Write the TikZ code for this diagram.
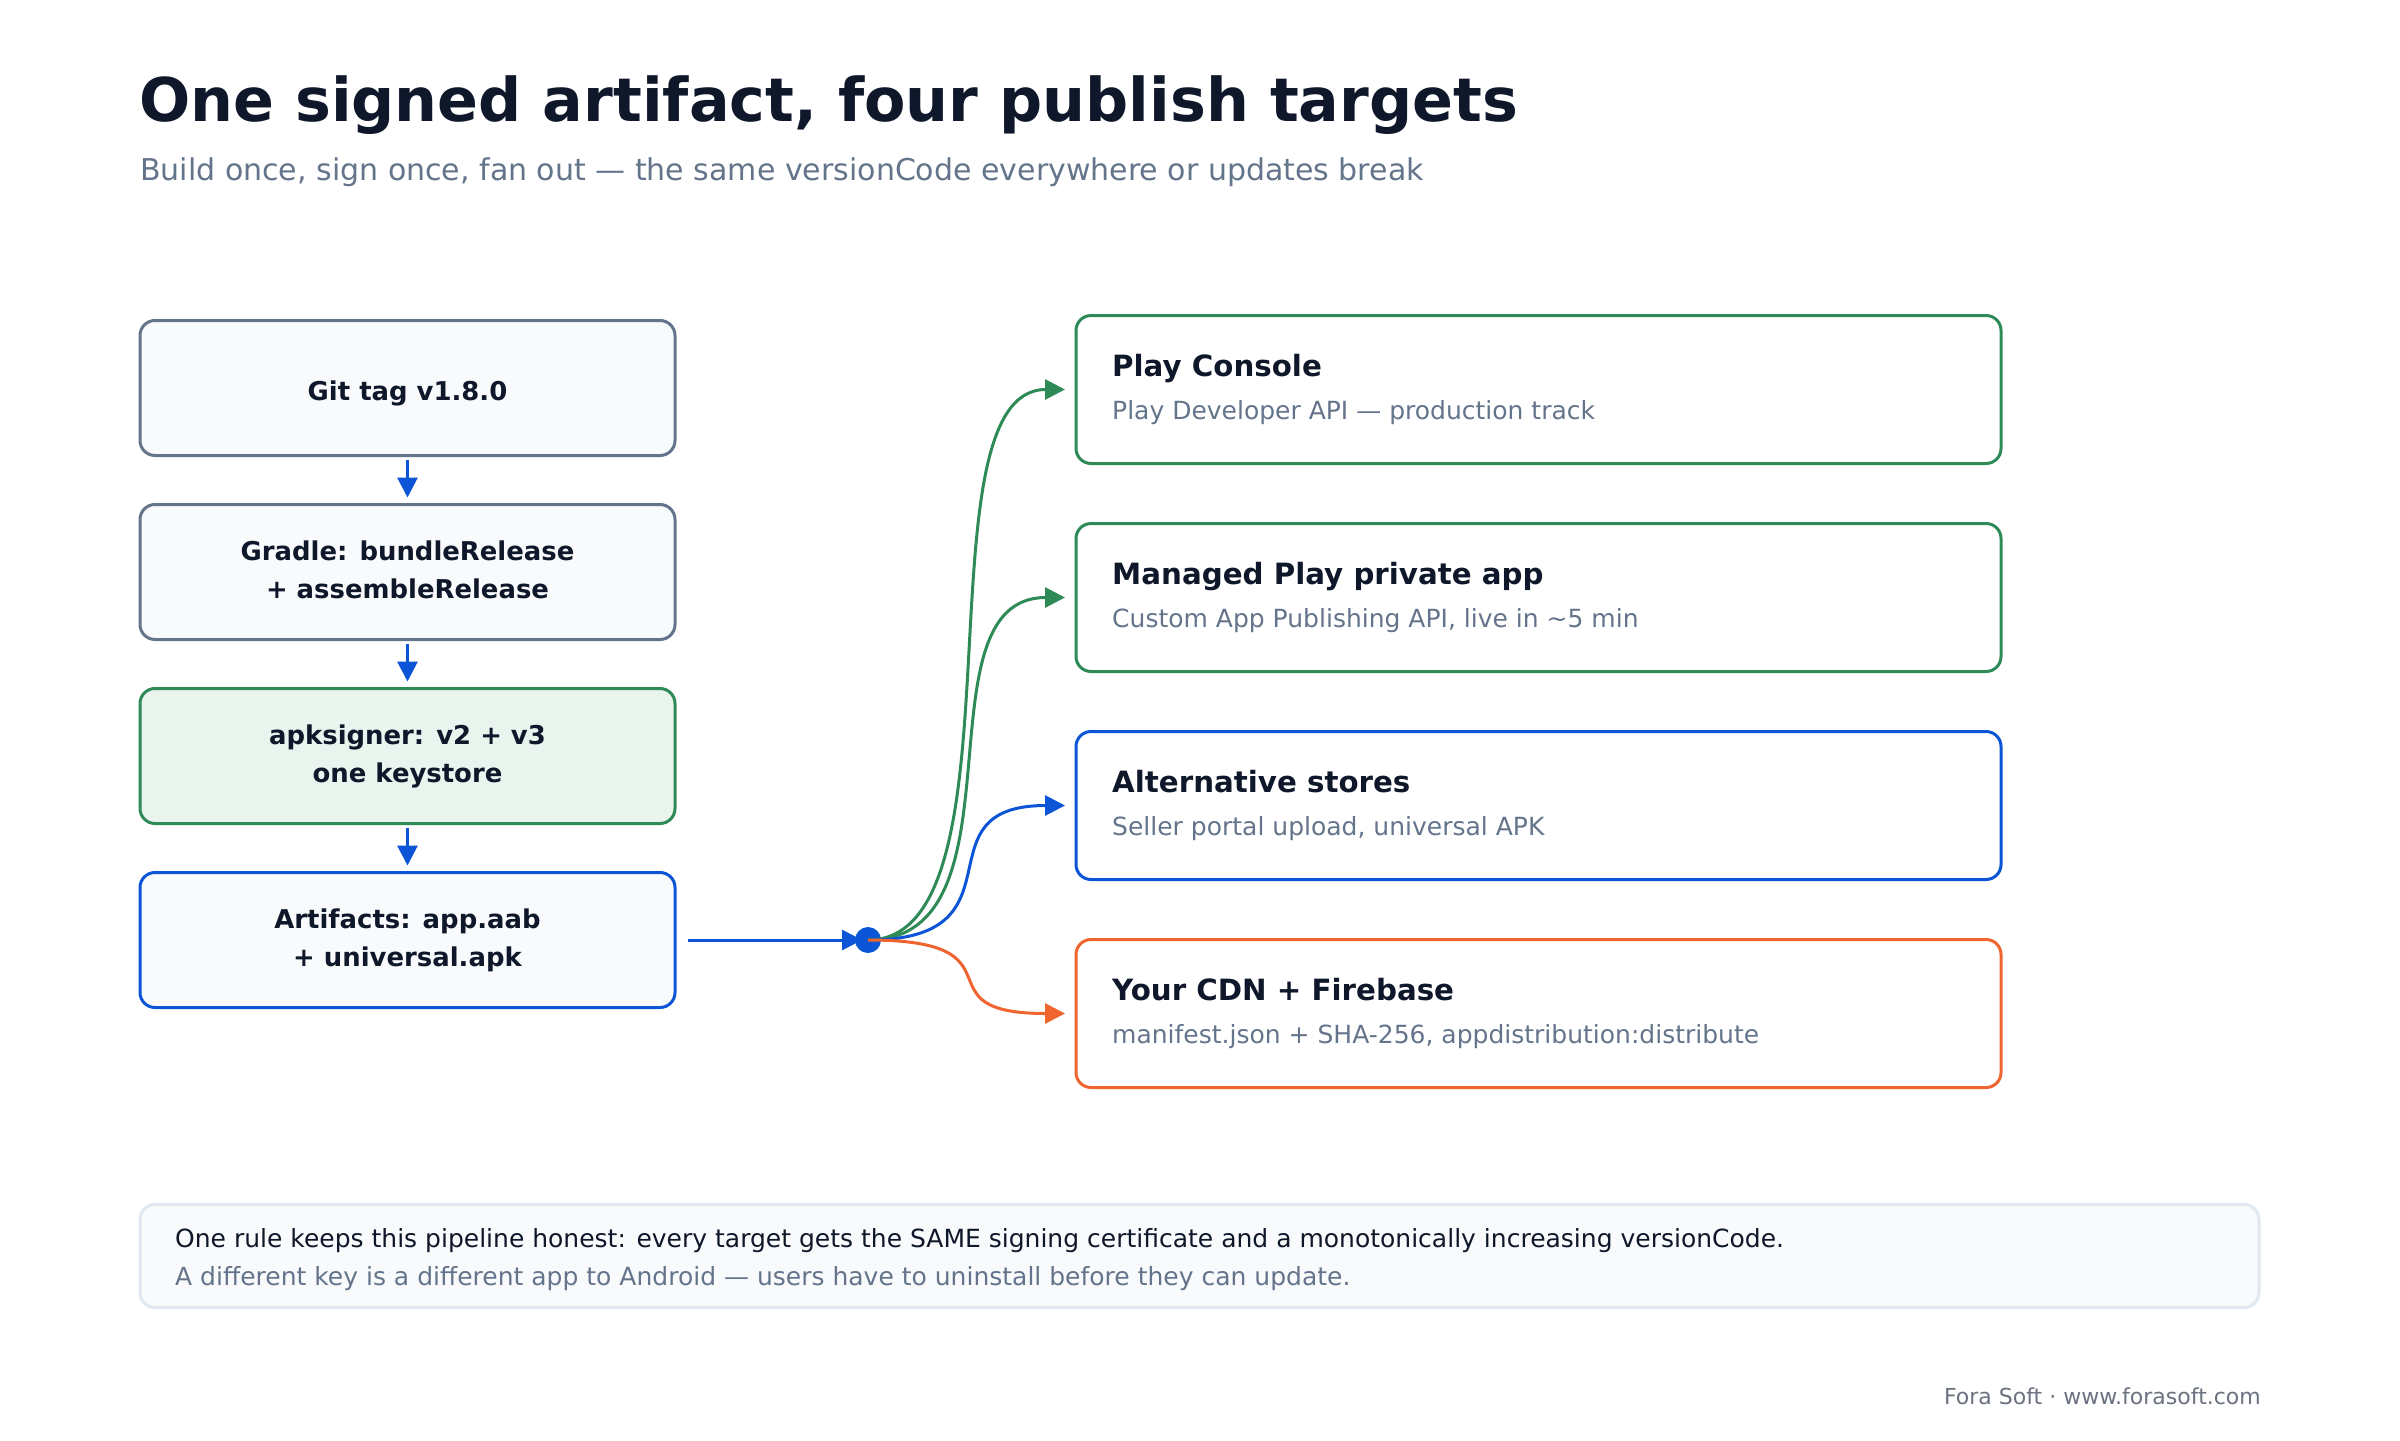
\documentclass[tikz,border=0pt]{standalone}
\usepackage{fontspec}
\setmainfont{DejaVu Sans}
\usetikzlibrary{arrows.meta}
\definecolor{ink}{HTML}{0F172A}
\definecolor{slate}{HTML}{64748B}
\definecolor{paper}{HTML}{F8FAFC}
\definecolor{mint}{HTML}{EAF4EE}
\definecolor{gr}{HTML}{2E8B57}
\definecolor{bl}{HTML}{0B55D6}
\definecolor{orng}{HTML}{F0642F}
\definecolor{line}{HTML}{E2E8F0}
\definecolor{foot}{HTML}{6B7280}
\begin{document}
\begin{tikzpicture}[x=1pt,y=-1pt,
  lbox/.style={draw=slate, fill=paper, line width=3pt, rounded corners=15pt,
    minimum width=535pt, minimum height=135pt, inner sep=0pt, outer sep=0pt},
  rbox/.style={draw=#1, fill=white, line width=3pt, rounded corners=15pt,
    minimum width=925pt, minimum height=148pt, inner sep=0pt, outer sep=0pt},
  ltext/.style={font=\fontsize{25.9}{32}\selectfont\bfseries, text=ink, anchor=base, inner sep=0pt},
  rtitle/.style={font=\fontsize{29.3}{35}\selectfont\bfseries, text=ink, anchor=base west, inner sep=0pt},
  rsub/.style={font=\fontsize{25}{30}\selectfont, text=slate, anchor=base west, inner sep=0pt},
  flow/.style={draw=#1, line width=3pt, -{Triangle[length=20pt,width=20pt]}},
  fan/.style={flow=#1, shorten >=11pt},
]
\fill[white] (0,0) rectangle (2400,1440);
\useasboundingbox (0,0) rectangle (2400,1440);

% title
\node[font=\fontsize{60.3}{72}\selectfont\bfseries, text=ink, anchor=base west, inner sep=0pt] (title) at (139,121) {One signed artifact, four publish targets};
\node[font=\fontsize{30}{36}\selectfont, text=slate, anchor=base west, inner sep=0pt] (subtitle) at (140,180) {Build once, sign once, fan out — the same versionCode everywhere or updates break};

% left pipeline
\node[lbox] (git) at (407.5,388) {};
\node[lbox] (gradle) at (407.5,572) {};
\node[lbox, draw=gr, fill=mint] (sign) at (407.5,756) {};
\node[lbox, draw=bl] (art) at (407.5,940) {};

\node[ltext] (gitt) at (407.5,400) {Git tag v1.8.0};
\node[ltext] (gradlea) at (407.5,560) {Gradle: bundleRelease};
\node[ltext] (gradleb) at (407.5,598) {+ assembleRelease};
\node[ltext] (signa) at (407.5,744) {apksigner: v2 + v3};
\node[ltext] (signb) at (407.5,782) {one keystore};
\node[ltext] (arta) at (407.5,928) {Artifacts: app.aab};
\node[ltext] (artb) at (407.5,966) {+ universal.apk};

\draw[flow=bl, shorten <=4pt, shorten >=7pt] (git.south) -- (gradle.north);
\draw[flow=bl, shorten <=4pt, shorten >=7pt] (gradle.south) -- (sign.north);
\draw[flow=bl, shorten <=4pt, shorten >=7pt] (sign.south) -- (art.north);

% targets
\node[rbox=gr] (play) at (1538.5,389.5) {};
\node[rbox=gr] (managed) at (1538.5,597.5) {};
\node[rbox=bl] (alt) at (1538.5,805.5) {};
\node[rbox=orng] (cdn) at (1538.5,1013.5) {};

\node[rtitle] (playt) at (1112,376.5) {Play Console};
\node[rsub] (plays) at (1112,419.5) {Play Developer API — production track};
\node[rtitle] (managedt) at (1112,584.5) {Managed Play private app};
\node[rsub] (manageds) at (1112,627.5) {Custom App Publishing API, live in \textasciitilde 5 min};
\node[rtitle] (altt) at (1112,792.5) {Alternative stores};
\node[rsub] (alts) at (1112,835.5) {Seller portal upload, universal APK};
\node[rtitle] (cdnt) at (1112,1000.5) {Your CDN + Firebase};
\node[rsub] (cdns) at (1112,1043.5) {manifest.json + SHA-256, appdistribution:distribute};

% hub
\coordinate (hubc) at (868,940);
\draw[flow=bl, shorten <=13pt, shorten >=6pt] (art.east) -- (hubc);
\node[circle, fill=bl, minimum size=26pt, inner sep=0pt] (hub) at (hubc) {};

\draw[fan=gr] (hub.center) .. controls +(162,0) and +(-162,0) .. (play.west);
\draw[fan=gr] (hub.center) .. controls +(162,0) and +(-162,0) .. (managed.west);
\draw[fan=bl] (hub.center) .. controls +(162,0) and +(-162,0) .. (alt.west);
\draw[fan=orng] (hub.center) .. controls +(162,0) and +(-162,0) .. (cdn.west);

% note
\node[draw=line, fill=paper, line width=3pt, rounded corners=15pt, minimum width=2119pt, minimum height=103pt, inner sep=0pt, outer sep=0pt] (note) at (1199.5,1256) {};
\node[font=\fontsize{25}{30}\selectfont, text=ink, anchor=base west, inner sep=0pt] (notea) at (175,1247) {One rule keeps this pipeline honest: every target gets the SAME signing certificate and a monotonically increasing versionCode.};
\node[font=\fontsize{25}{30}\selectfont, text=slate, anchor=base west, inner sep=0pt] (noteb) at (175,1285) {A different key is a different app to Android — users have to uninstall before they can update.};

% footer
\node[font=\fontsize{22}{26}\selectfont, text=foot, anchor=base east, inner sep=0pt] (footer) at (2261,1404) {Fora Soft · www.forasoft.com};
\end{tikzpicture}
\end{document}
